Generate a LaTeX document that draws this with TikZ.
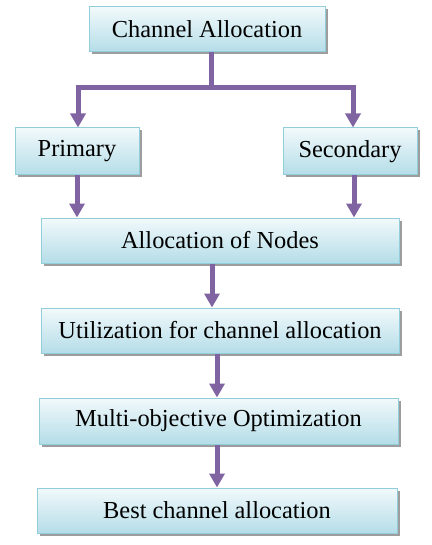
\documentclass[tikz,border=0pt]{standalone}
\usepackage{fontspec}
\setmainfont{Liberation Serif}
\usetikzlibrary{positioning, arrows.meta, shadows, calc}
\definecolor{boxtop}{RGB}{242,249,251}
\definecolor{boxbottom}{RGB}{180,221,232}
\definecolor{boxline}{RGB}{146,205,220}
\definecolor{flowpurple}{RGB}{128,100,162}
\tikzset{
    stage/.style = {rectangle, draw=boxline, line width=1pt, top color=boxtop, bottom color=boxbottom, minimum height=45pt, inner sep=0pt, font=\fontsize{24.4}{28}\selectfont, drop shadow={shadow xshift=2.5pt, shadow yshift=-2.5pt, fill=black!55, opacity=0.7}},
    mainflow/.style = {draw=flowpurple, line width=5pt},
    arrowflow/.style = {draw=flowpurple, line width=5pt, -{Triangle[width=15pt,length=14pt]}}
}
\begin{document}
\begin{tikzpicture}[
        x=1pt, y=1pt,
        node distance=44pt
    ]
        \useasboundingbox (0,0) rectangle (431,-545);

        % --- NODES ---
        % Top level
        \node [stage, minimum width=236pt] (channel) at (207,-29.5) {Channel Allocation};

        % Two branches
        \node [stage, minimum width=124pt, minimum height=47pt] (primary) at (77,-151.5) {Primary};
        \node [stage, minimum width=134pt, minimum height=47pt] (secondary) at (350,-151.5) {Secondary};

        % Main chain
        \node [stage, minimum width=358pt] (nodes) at (220,-240.5) {Allocation of Nodes};
        \node [stage, minimum width=358pt, below=of nodes] (utilization) {Utilization for channel allocation};
        \node [stage, minimum width=359pt, minimum height=46pt, below=of utilization, xshift=-1.5pt] (multi) {Multi-objective Optimization};
        \node [stage, minimum width=360pt, below=43pt of multi, xshift=-1.5pt] (best) {Best channel allocation};

        % --- PATHS ---
        % Split into the two branches
        \coordinate (split) at ($(channel.south)+(4,-35)$);
        \path [mainflow] ([xshift=4pt]channel.south) -- (split);
        \path [arrowflow] ([xshift=2.5pt]split) -| ([xshift=1pt]primary.north);
        \path [arrowflow] ([xshift=-2.5pt]split) -| ([xshift=3pt]secondary.north);

        % Branches into the chain
        \path [arrowflow] (primary.south) -- (primary.south |- nodes.north);
        \path [arrowflow] ([xshift=4pt]secondary.south) -- ([xshift=4pt]secondary.south |- nodes.north);

        % Chain flow
        \path [arrowflow] ([xshift=-8pt]nodes.south) -- ([xshift=-8pt]nodes.south |- utilization.north);
        \path [arrowflow] ([xshift=-3pt]utilization.south) -- ([xshift=-3pt]utilization.south |- multi.north);
        \path [arrowflow] ([xshift=-1.5pt]multi.south) -- ([xshift=-1.5pt]multi.south |- best.north);

    \end{tikzpicture}
\end{document}
